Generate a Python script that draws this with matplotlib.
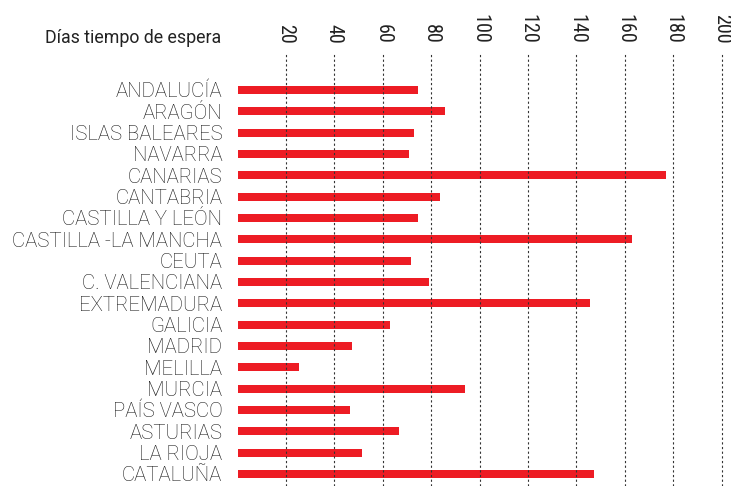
import matplotlib
matplotlib.use("Agg")
import matplotlib.pyplot as plt
from matplotlib import font_manager

regions = ["ANDALUCÍA", "ARAGÓN", "ISLAS BALEARES", "NAVARRA", "CANARIAS",
           "CANTABRIA", "CASTILLA Y LEÓN", "CASTILLA -LA MANCHA", "CEUTA",
           "C. VALENCIANA", "EXTREMADURA", "GALICIA", "MADRID", "MELILLA",
           "MURCIA", "PAÍS VASCO", "ASTURIAS", "LA RIOJA", "CATALUÑA"]
days = [74.4, 85.5, 72.7, 70.7, 176.9, 83.5, 74.4, 162.8, 71.5, 78.9,
        145.5, 62.8, 47.1, 25.2, 93.8, 46.3, 66.5, 51.2, 147.1]
ticks = [20, 40, 60, 80, 100, 120, 140, 160, 180, 200]
title = "Días tiempo de espera"

avail = {f.name for f in font_manager.fontManager.ttflist}
tick_font = next((f for f in ["Roboto Condensed", "Liberation Sans Narrow",
                              "DejaVu Sans Condensed", "Roboto", "DejaVu Sans"]
                  if f in avail), "DejaVu Sans")
label_font = next((f for f in ["Roboto", "DejaVu Sans"] if f in avail), "DejaVu Sans")
plt.rcParams['font.family'] = [label_font, 'DejaVu Sans']

fig = plt.figure(figsize=(7.31, 4.86), dpi=100)
ax = fig.add_axes([237.6 / 731, 0, 1 - 237.6 / 731, 1 - 52 / 486])

y = list(range(len(regions)))
ax.barh(y, days, height=0.375, color="#ED1C24", zorder=2)
for t in ticks:
    ax.axvline(t, color="#333333", lw=0.8, ls=(0, (2, 2.2)), zorder=3)

ax.set_xlim(0, (731 - 237.6) / 2.4206)
ax.set_ylim(18.5625, -1.78)
ax.set_yticks(y)
ax.set_yticklabels(regions, fontsize=14.7, color="#1a1a1a", fontweight="light",
                   family=[label_font, 'DejaVu Sans'])
ax.tick_params(axis="y", length=0, pad=11)
for lbl in ax.get_yticklabels():
    lbl.set_va("center_baseline")
ax.xaxis.tick_top()
ax.set_xticks(ticks)
ax.set_xticklabels([str(t) for t in ticks], rotation=-90, fontsize=14.5,
                   color="#222222", fontweight="normal",
                   family=[tick_font, 'DejaVu Sans'])
ax.tick_params(axis="x", length=0, pad=6)
for s in ax.spines.values():
    s.set_visible(False)

fig.text(221 / 731, 1 - 38 / 486, title, ha="right", va="center",
         fontsize=12.8, color="#222222", family=[label_font, 'DejaVu Sans'])

fig.savefig("out.png", dpi=100)
